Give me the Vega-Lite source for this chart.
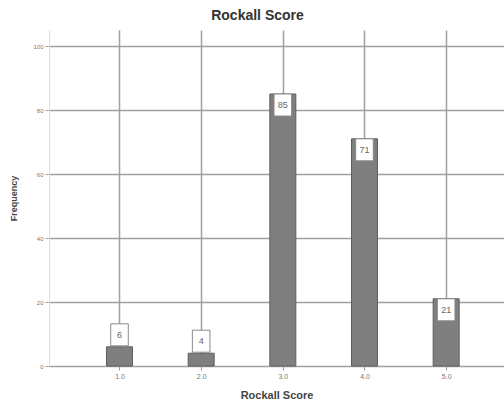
{
  "$schema": "https://vega.github.io/schema/vega-lite/v6.json",
  "autosize": "none",
  "width": 455,
  "height": 336,
  "padding": {"left": 49, "top": 30, "right": 0, "bottom": 38},
  "background": "white",
  "title": {"text": "Rockall Score", "fontSize": 14, "font": "Liberation Sans", "fontWeight": "bold", "color": "#333333", "anchor": "middle", "dx": -19, "offset": 7},
  "config": {"view": {"stroke": null}},
  "data": {"values": [
    {"score": 1, "count": 6},
    {"score": 2, "count": 4},
    {"score": 3, "count": 85},
    {"score": 4, "count": 71},
    {"score": 5, "count": 21}
  ]},
  "encoding": {
    "x": {"field": "score", "type": "quantitative",
      "scale": {"domain": [0.198, 5.647], "nice": false, "zero": false},
      "axis": {"values": [1, 2, 3, 4, 5], "format": ".1f", "grid": true, "gridColor": "#a0a0a0", "gridWidth": 1.5,
        "domain": false, "tickSize": 4, "tickColor": "#999999", "labelFontSize": 7, "labelColor": "#777777", "labelFont": "Liberation Sans",
        "title": "Rockall Score", "titleFontSize": 11, "titleFont": "Liberation Sans", "titleFontWeight": "bold", "titleColor": "#444444", "titlePadding": 10}},
    "y": {"field": "count", "type": "quantitative",
      "scale": {"domain": [0, 105], "nice": false},
      "axis": {"values": [0, 20, 40, 60, 80, 100], "grid": true, "gridColor": "#a0a0a0", "gridWidth": 1.5,
        "domain": true, "domainColor": "#dddddd", "tickSize": 4, "tickColor": "#a0a0a0", "labelFontSize": 6, "labelColor": "#777777", "labelFont": "Liberation Sans", "labelPadding": 2,
        "title": "Frequency", "titleFontSize": 9, "titleFont": "Liberation Sans", "titleFontWeight": "bold", "titleColor": "#444444", "titlePadding": 14}}
  },
  "layer": [
    {"mark": {"type": "bar", "size": 26, "fill": "#7f7f7f", "stroke": "#5e5e5e", "strokeWidth": 1}},
    {"transform": [{"filter": "datum.count < 10"}],
     "layer": [
      {"mark": {"type": "point", "shape": "M-0.8,-1L0.8,-1L0.8,1L-0.8,1Z", "size": 484, "filled": true, "fill": "white", "stroke": "#8a8a8a", "strokeWidth": 1, "opacity": 1, "yOffset": -12}},
      {"mark": {"type": "text", "fontSize": 9, "font": "Liberation Sans", "color": "#666666", "yOffset": -12, "baseline": "middle"}, "encoding": {"text": {"field": "count", "type": "quantitative"}}}
     ]},
    {"transform": [{"filter": "datum.count >= 10"}],
     "layer": [
      {"mark": {"type": "point", "shape": "M-0.8,-1L0.8,-1L0.8,1L-0.8,1Z", "size": 484, "filled": true, "fill": "white", "stroke": "#8a8a8a", "strokeWidth": 1, "opacity": 1, "yOffset": 11}},
      {"mark": {"type": "text", "fontSize": 9, "font": "Liberation Sans", "color": "#666666", "yOffset": 11, "baseline": "middle"}, "encoding": {"text": {"field": "count", "type": "quantitative"}}}
     ]}
  ]
}
